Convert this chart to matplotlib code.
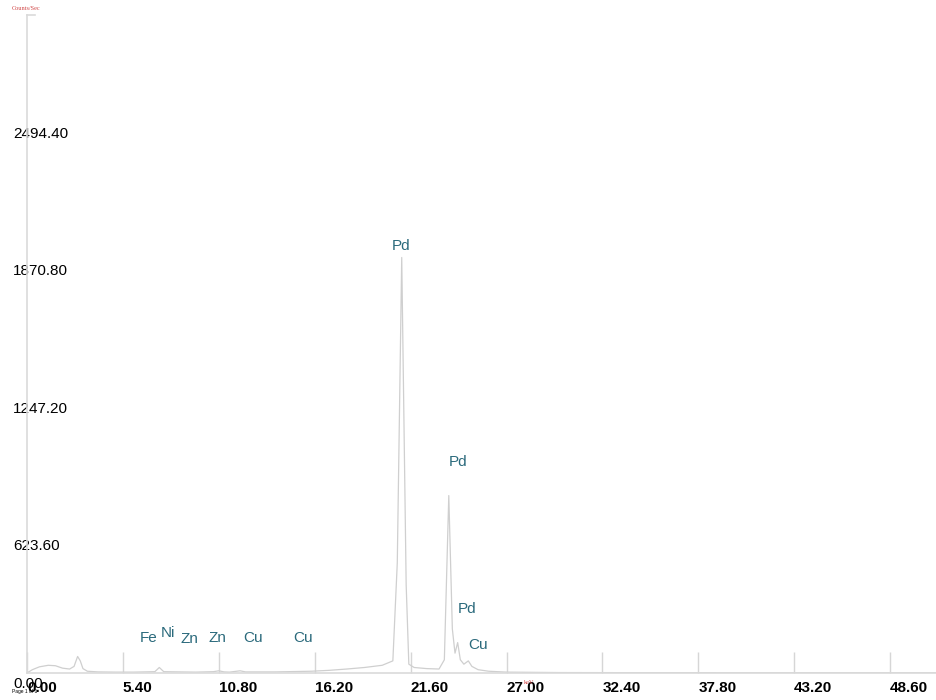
import matplotlib
matplotlib.use("Agg")
import matplotlib.pyplot as plt
from matplotlib.transforms import ScaledTranslation

plt.rcParams['font.family'] = ['Liberation Sans', 'DejaVu Sans']

# spectrum read as (keV, counts/sec) vertices
energy = [0.0, 0.3, 0.7, 1.2, 1.6, 2.0, 2.4, 2.65, 2.85, 3.0, 3.15, 3.4, 4.0,
          5.0, 6.0, 7.2, 7.45, 7.7, 8.6, 9.5, 10.5, 10.8, 11.1, 11.4, 12.0,
          12.3, 14.0, 16.0, 17.0, 18.0, 19.0, 20.0, 20.6, 20.85, 21.1, 21.35,
          21.5, 21.8, 22.5, 23.2, 23.5, 23.75, 23.95, 24.1, 24.25, 24.4, 24.6,
          24.85, 25.05, 25.4, 26.0, 27.0, 30.0, 40.0, 51.2]
counts = [0, 15, 28, 35, 33, 22, 18, 30, 75, 55, 20, 8, 5,
          4, 4, 6, 25, 6, 5, 4, 6, 10, 5, 4, 10,
          5, 5, 8, 12, 18, 25, 35, 55, 500, 1885, 400,
          40, 25, 20, 18, 60, 805, 200, 90, 138, 60, 40,
          55, 30, 15, 8, 4, 2, 1, 1]

# element markers: name, energy, height
peak_names = ['Fe', 'Ni', 'Zn', 'Zn', 'Cu', 'Cu', 'Pd', 'Pd', 'Pd', 'Cu']
peak_kev = [6.85, 7.95, 9.12, 10.75, 12.73, 15.54, 21.06, 24.27, 24.78, 25.4]
peak_y = [159, 181, 152, 159, 159, 159, 1937, 957, 290, 127]

x_ticks = [0.0, 5.4, 10.8, 16.2, 21.6, 27.0, 32.4, 37.8, 43.2, 48.6]
y_ticks = [0.0, 623.6, 1247.2, 1870.8, 2494.4]

fig = plt.figure(figsize=(9.37, 7.0), dpi=100)
ax = fig.add_axes([27 / 937, 27 / 700, 910 / 937, 658 / 700])

ax.plot(energy, counts, color='#cfcfcf', lw=0.9)

for name, e, y in zip(peak_names, peak_kev, peak_y):
    ax.text(e, y, name, color='#2b6a7c', fontsize=11, ha='center', va='center')

ax.set_xlim(0, 51.24)
ax.set_ylim(0, 2985)

for s in ['top', 'right']:
    ax.spines[s].set_visible(False)
for s in ['left', 'bottom']:
    ax.spines[s].set_color('#dadada')
    ax.spines[s].set_linewidth(1.2)

ax.set_xticks(x_ticks)
ax.set_xticklabels(['%.2f' % v for v in x_ticks], fontsize=11, fontweight='bold')
ax.tick_params(axis='x', direction='in', length=15, width=1, color='#d6d6d6', pad=6)
for lab in ax.get_xticklabels():
    lab.set_horizontalalignment('left')

ax.set_yticks(y_ticks)
ax.set_yticklabels(['%.2f' % v for v in y_ticks], fontsize=11)
ax.tick_params(axis='y', length=0, pad=10)
shift = ScaledTranslation(0, -9 / 100, fig.dpi_scale_trans)
for lab in ax.get_yticklabels():
    lab.set_horizontalalignment('left')
    lab.set_transform(lab.get_transform() + shift)

# short cap at the top of the count axis
ax.plot([0, 0.45], [2985, 2985], color='#dadada', lw=1.2, clip_on=False)

fig.text(12 / 937, 1 - 9 / 700, 'Counts/Sec', color='#d04545', fontsize=4.5,
         family='Liberation Serif', va='center')
fig.text(524 / 937, 1 - 683 / 700, 'keV', color='#d04545', fontsize=4.5,
         family='Liberation Serif', va='center')
fig.text(12 / 937, 1 - 691 / 700, 'Page 1 of 1', color='black', fontsize=3.5,
         va='center')

fig.savefig('out.png', dpi=100)
